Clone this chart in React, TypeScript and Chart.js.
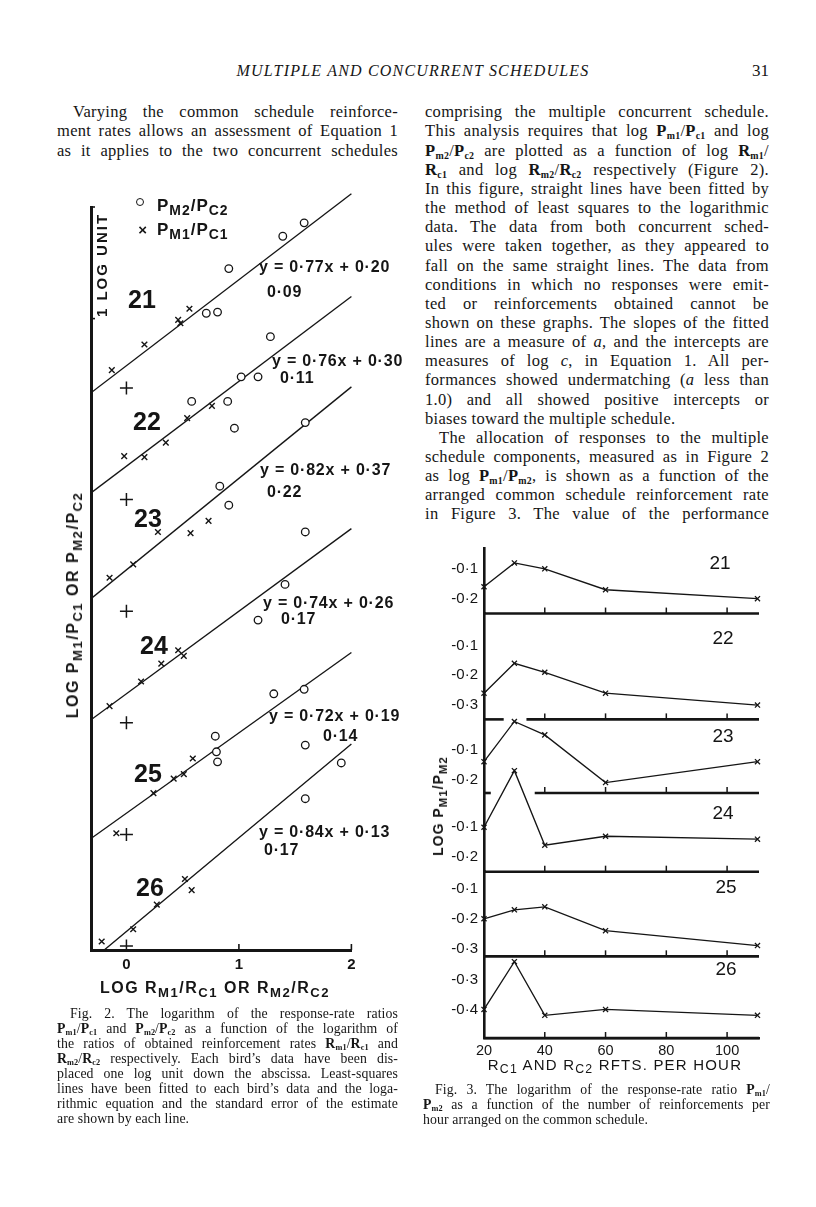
import React, { useEffect, useRef } from 'react';
import { Chart, registerables } from 'chart.js';

Chart.register(...registerables);

// ---------------- Fig. 2 data ----------------
const birds = ['21', '22', '23', '24', '25', '26'];
const fitSlopes = [0.77, 0.76, 0.82, 0.74, 0.72, 0.84];
const fitIntercepts = [0.2, 0.3, 0.37, 0.26, 0.19, 0.13];
const fitStdErrors = [0.09, 0.11, 0.22, 0.17, 0.14, 0.17];
// x: log Rm1/Rc1, y: log Pm1/Pc1 (crosses)
const comp1LogR = [
  [-0.13, 0.16, 0.46, 0.48, 0.56],
  [-0.02, 0.16, 0.35, 0.54, 0.76],
  [-0.15, 0.06, 0.28, 0.57, 0.73],
  [-0.15, 0.13, 0.31, 0.46, 0.51],
  [-0.09, 0.24, 0.42, 0.51, 0.59],
  [-0.22, 0.06, 0.27, 0.52, 0.58],
];
const comp1LogP = [
  [0.16, 0.39, 0.61, 0.58, 0.71],
  [0.39, 0.38, 0.51, 0.73, 0.84],
  [0.3, 0.42, 0.71, 0.7, 0.81],
  [0.15, 0.37, 0.53, 0.65, 0.6],
  [0.01, 0.37, 0.5, 0.54, 0.68],
  [0.04, 0.15, 0.37, 0.6, 0.5],
];
// x: log Rm2/Rc2, y: log Pm2/Pc2 (circles)
const comp2LogR = [
  [0.71, 0.81, 0.91, 1.39, 1.58],
  [0.58, 0.9, 0.96, 1.02, 1.17, 1.28],
  [0.83, 0.91, 1.59],
  [1.17, 1.41, 1.59],
  [0.79, 0.8, 0.81, 1.31, 1.58],
  [1.59, 1.59, 1.91],
];
const comp2LogP = [
  [0.67, 0.68, 1.07, 1.36, 1.48],
  [0.88, 0.88, 0.64, 1.1, 1.1, 1.46],
  [1.12, 0.95, 1.69],
  [0.92, 1.24, 1.71],
  [0.88, 0.74, 0.65, 1.26, 1.3],
  [1.8, 1.32, 1.64],
];
const fig2XTicks = [0, 1, 2];

// ---------------- Fig. 3 data ----------------
const rftsPerHour = [20, 30, 40, 60, 110];
const logPm1Pm2 = [
  [-0.16, -0.08, -0.1, -0.17, -0.2],
  [-0.26, -0.16, -0.19, -0.26, -0.3],
  [-0.14, -0.005, -0.05, -0.21, -0.14],
  [-0.1, 0.09, -0.16, -0.13, -0.14],
  [-0.2, -0.17, -0.16, -0.24, -0.29],
  [-0.4, -0.24, -0.42, -0.4, -0.42],
];
const panelTicks = [
  [-0.1, -0.2],
  [-0.1, -0.2, -0.3],
  [-0.1, -0.2],
  [-0.1, -0.2],
  [-0.1, -0.2, -0.3],
  [-0.3, -0.4],
];
const panelMin = [-0.25, -0.348, -0.245, -0.249, -0.326, -0.496];
const panelMax = [-0.03, 0.007, 0.002, 0.015, -0.042, -0.222];
const rateTicks = [20, 40, 60, 80, 100];

// ---------------- styling constants ----------------
const INK = '#151515';
const SANS = '"Liberation Sans", Arial, sans-serif';
const SERIF = '"Liberation Serif", "Times New Roman", serif';
const F2_XMIN = -0.315;
const F2_XMAX = 2.0;
const F2_YMIN = -0.036;
const F2_YMAX = 6.622;
const DISPLACE = 1; // each bird displaced one log unit
const F3_XMIN = 20;
const F3_XMAX = 110.5;

const dot = (v: number, d = 2) => v.toFixed(d).replace('.', '\u00b7');

// ---------- text helpers ----------
const Bs = ({ c, s }: { c: string; s: string }) => (
  <span style={{ whiteSpace: 'nowrap' }}>
    <b>{c}</b>
    <span style={{ fontSize: '0.6em', verticalAlign: '-0.3em', lineHeight: 0, fontWeight: 700 }}>{s}</span>
  </span>
);
const Cs = ({ c, s }: { c: string; s: string }) => (
  <>
    {c}
    <span style={{ fontSize: '0.82em', verticalAlign: '-0.32em', lineHeight: 0 }}>{s}</span>
  </>
);

function TextLine(props: {
  x: number; y: number; w: number; size: number; lh: number; indent?: number;
  justify?: boolean; ls?: number; children: any;
}) {
  const { x, y, w, size, lh, indent = 0, justify = true, ls = 0.3, children } = props;
  return (
    <div
      style={{
        position: 'absolute', left: x + indent, top: y, width: w - indent,
        fontFamily: SERIF, fontSize: size, lineHeight: lh + 'px', whiteSpace: 'nowrap',
        textAlign: justify ? 'justify' : 'left', textAlignLast: justify ? 'justify' : 'left',
        letterSpacing: ls, color: INK,
      } as any}
    >
      {children}
    </div>
  );
}

function Lbl(props: { x: number; y: number; center?: boolean; rotate?: boolean; style?: any; children: any }) {
  const { x, y, center, rotate, style, children } = props;
  let transform = center ? 'translate(-50%,-50%)' : 'translateY(-50%)';
  if (rotate) transform = 'translate(-50%,-50%) rotate(-90deg)';
  return (
    <div style={{ position: 'absolute', left: x, top: y, transform, whiteSpace: 'nowrap', lineHeight: 1, color: INK, fontFamily: SANS, ...style }}>
      {children}
    </div>
  );
}

// ---------- Fig 2 chart ----------
const fig2Marks = {
  id: 'fig2Marks',
  afterDraw(chart: any) {
    const { ctx } = chart;
    const xs = chart.scales.x;
    const ys = chart.scales.y;
    ctx.save();
    ctx.strokeStyle = INK;
    ctx.lineWidth = 1.6;
    [1, 2].forEach((v) => {
      const px = xs.getPixelForValue(v);
      ctx.beginPath();
      ctx.moveTo(px, ys.bottom);
      ctx.lineTo(px, ys.bottom - 6);
      ctx.stroke();
    });
    [F2_YMAX, F2_YMAX - 1].forEach((v) => {
      const py = ys.getPixelForValue(v);
      ctx.beginPath();
      ctx.moveTo(xs.left, py);
      ctx.lineTo(xs.left + 4, py);
      ctx.stroke();
    });
    ctx.restore();
  },
};

function Fig2Canvas() {
  const ref = useRef<HTMLCanvasElement>(null);
  useEffect(() => {
    const datasets: any[] = [];
    birds.forEach((b, i) => {
      const off = (birds.length - 1 - i) * DISPLACE;
      const a = fitSlopes[i];
      const c = fitIntercepts[i];
      const x0 = Math.max(F2_XMIN, (F2_YMIN - off - c) / a);
      datasets.push({
        label: 'fit ' + b,
        data: [{ x: x0, y: off + c + a * x0 }, { x: F2_XMAX, y: off + c + a * F2_XMAX }],
        showLine: true, borderColor: INK, borderWidth: 1.35, pointRadius: 0,
        clip: { left: 0, top: false, right: false, bottom: 0 }, order: 3,
      });
      datasets.push({
        label: 'origin ' + b,
        data: [{ x: 0, y: off }],
        pointStyle: 'cross', pointRadius: 6.5, pointBorderColor: INK, pointBorderWidth: 1.5, order: 2,
      });
      datasets.push({
        label: 'Pm1/Pc1 ' + b,
        data: comp1LogR[i].map((x, j) => ({ x, y: off + comp1LogP[i][j] })),
        pointStyle: 'crossRot', pointRadius: 4, pointBorderColor: INK, pointBorderWidth: 1.4, order: 1,
      });
      datasets.push({
        label: 'Pm2/Pc2 ' + b,
        data: comp2LogR[i].map((x, j) => ({ x, y: off + comp2LogP[i][j] })),
        pointStyle: 'circle', pointRadius: 3.8, pointBackgroundColor: '#fff', pointBorderColor: INK,
        pointBorderWidth: 1.3, order: 1,
      });
    });
    const chart = new Chart(ref.current as HTMLCanvasElement, {
      type: 'scatter',
      data: { datasets },
      options: {
        animation: false,
        responsive: false,
        events: [],
        layout: { padding: { left: 51, right: 48.6, top: 27, bottom: 30 } },
        plugins: { legend: { display: false }, tooltip: { enabled: false } },
        scales: {
          x: {
            type: 'linear', min: F2_XMIN, max: F2_XMAX, position: 'bottom',
            grid: { display: false, drawTicks: false, tickLength: 0 },
            border: { display: true, color: INK, width: 3 },
            ticks: {
              color: INK, font: { family: SANS, size: 15, weight: 'bold' }, padding: 6,
              autoSkip: false, maxRotation: 0, callback: (v: any) => String(v),
            },
            afterBuildTicks: (s: any) => { s.ticks = fig2XTicks.map((v) => ({ value: v })); },
            afterFit: (s: any) => { s.height = 30; },
          },
          y: {
            type: 'linear', min: F2_YMIN, max: F2_YMAX,
            grid: { display: false, drawTicks: false, tickLength: 0 },
            border: { display: true, color: INK, width: 3 },
            ticks: { display: false },
            afterFit: (s: any) => { s.width = 0; },
          },
        },
      } as any,
      plugins: [fig2Marks],
    });
    return () => chart.destroy();
  }, []);
  return <canvas ref={ref} width={360} height={830} style={{ position: 'absolute', left: 40, top: 180, width: 360, height: 830 }} />;
}

// ---------- Fig 3 chart ----------
const fig3Marks = {
  id: 'fig3Marks',
  afterDraw(chart: any) {
    const { ctx, chartArea } = chart;
    const xs = chart.scales.x;
    ctx.save();
    ctx.strokeStyle = INK;
    birds.forEach((b, i) => {
      const ys = chart.scales['y' + b];
      const y = ys.bottom;
      // gaps where the panel below rises up to this baseline
      const gaps: number[][] = [];
      if (i + 1 < birds.length) {
        const pts = chart.getDatasetMeta(i + 1).data;
        const lim = y + 3;
        for (let k = 0; k < pts.length - 1; k++) {
          const p = pts[k];
          const q = pts[k + 1];
          if (p.y > lim && q.y > lim) continue;
          const t = (lim - p.y) / (q.y - p.y);
          let xa = p.x;
          let xb = q.x;
          if (p.y <= lim && q.y > lim) xb = p.x + t * (q.x - p.x);
          if (p.y > lim && q.y <= lim) xa = p.x + t * (q.x - p.x);
          gaps.push([xa - 10, xb + 10]);
        }
      }
      gaps.sort((a, c) => a[0] - c[0]);
      const segs: number[][] = [];
      let cur = chartArea.left;
      gaps.forEach((g) => {
        if (g[0] > cur) segs.push([cur, g[0]]);
        cur = Math.max(cur, g[1]);
      });
      if (cur < chartArea.right) segs.push([cur, chartArea.right]);
      ctx.lineWidth = 2.6;
      segs.forEach((s) => {
        ctx.beginPath();
        ctx.moveTo(s[0], y);
        ctx.lineTo(s[1], y);
        ctx.stroke();
      });
      ctx.lineWidth = 1.5;
      rateTicks.slice(1).forEach((v) => {
        const px = xs.getPixelForValue(v);
        ctx.beginPath();
        ctx.moveTo(px, y);
        ctx.lineTo(px, y - 6);
        ctx.stroke();
      });
    });
    ctx.restore();
  },
};

function Fig3Canvas() {
  const ref = useRef<HTMLCanvasElement>(null);
  useEffect(() => {
    const scales: any = {
      x: {
        type: 'linear', min: F3_XMIN, max: F3_XMAX, position: 'bottom',
        grid: { display: false, drawTicks: false, tickLength: 0 },
        border: { display: true, color: INK, width: 2.6 },
        ticks: { color: INK, font: { family: SANS, size: 14.5 }, padding: 4, autoSkip: false, maxRotation: 0 },
        afterBuildTicks: (s: any) => { s.ticks = rateTicks.map((v) => ({ value: v })); },
        afterFit: (s: any) => { s.height = 30; },
      },
    };
    birds.forEach((b, i) => {
      scales['y' + b] = {
        type: 'linear', position: 'left', stack: 'panels',
        stackWeight: panelMax[i] - panelMin[i], weight: birds.length - i,
        min: panelMin[i], max: panelMax[i],
        grid: { display: false, drawTicks: false, tickLength: 0 },
        border: { display: true, color: INK, width: 2.6 },
        ticks: {
          color: INK, font: { family: SANS, size: 15 }, padding: 6, autoSkip: false,
          callback: (v: any) => (v < 0 ? '-' : '') + dot(Math.abs(v), 1),
        },
        afterBuildTicks: (s: any) => { s.ticks = panelTicks[i].map((v) => ({ value: v })); },
        afterFit: (s: any) => { s.width = 84; },
      };
    });
    const datasets = birds.map((b, i) => ({
      label: 'Bird ' + b,
      yAxisID: 'y' + b,
      data: rftsPerHour.map((x, j) => ({ x, y: logPm1Pm2[i][j] })),
      showLine: true, borderColor: INK, borderWidth: 1.35,
      pointStyle: 'crossRot', pointRadius: 3.6, pointBorderColor: INK, pointBorderWidth: 1.3,
      clip: false,
    }));
    const chart = new Chart(ref.current as HTMLCanvasElement, {
      type: 'scatter',
      data: { datasets },
      options: {
        animation: false,
        responsive: false,
        events: [],
        layout: { padding: { left: 0, right: 21, top: 18, bottom: 7 } },
        plugins: { legend: { display: false }, tooltip: { enabled: false } },
        scales,
      } as any,
      plugins: [fig3Marks],
    });
    return () => chart.destroy();
  }, []);
  return <canvas ref={ref} width={380} height={545} style={{ position: 'absolute', left: 400, top: 530, width: 380, height: 545 }} />;
}

// ---------- page text ----------
const LEFT_X = 57;
const LEFT_W = 341;
const RIGHT_X = 425;
const RIGHT_W = 344;
const BODY_SIZE = 16.5;
const BODY_LH = 19;
const bodyTop = (k: number) => 113.3 + 19.15 * k - 11;

const leftLines: any[] = [
  'Varying the common schedule reinforce-',
  'ment rates allows an assessment of Equation 1',
  'as it applies to the two concurrent schedules',
];

const rightLines: any[] = [
  'comprising the multiple concurrent schedule.',
  <>This analysis requires that log <Bs c="P" s="m1" />/<Bs c="P" s="c1" /> and log</>,
  <><Bs c="P" s="m2" />/<Bs c="P" s="c2" /> are plotted as a function of log <Bs c="R" s="m1" />/</>,
  <><Bs c="R" s="c1" /> and log <Bs c="R" s="m2" />/<Bs c="R" s="c2" /> respectively (Figure 2).</>,
  'In this figure, straight lines have been fitted by',
  'the method of least squares to the logarithmic',
  'data. The data from both concurrent sched-',
  'ules were taken together, as they appeared to',
  'fall on the same straight lines. The data from',
  'conditions in which no responses were emit-',
  'ted or reinforcements obtained cannot be',
  'shown on these graphs. The slopes of the fitted',
  <>lines are a measure of <i>a</i>, and the intercepts are</>,
  <>measures of log <i>c</i>, in Equation 1. All per-</>,
  <>formances showed undermatching (<i>a</i> less than</>,
  '1.0) and all showed positive intercepts or',
  'biases toward the multiple schedule.',
  'The allocation of responses to the multiple',
  'schedule components, measured as in Figure 2',
  <>as log <Bs c="P" s="m1" />/<Bs c="P" s="m2" />, is shown as a function of the</>,
  'arranged common schedule reinforcement rate',
  'in Figure 3. The value of the performance',
];

const fig2Caption: any[] = [
  'Fig. 2. The logarithm of the response-rate ratios',
  <><Bs c="P" s="m1" />/<Bs c="P" s="c1" /> and <Bs c="P" s="m2" />/<Bs c="P" s="c2" /> as a function of the logarithm of</>,
  <>the ratios of obtained reinforcement rates <Bs c="R" s="m1" />/<Bs c="R" s="c1" /> and</>,
  <><Bs c="R" s="m2" />/<Bs c="R" s="c2" /> respectively. Each bird{'\u2019'}s data have been dis-</>,
  'placed one log unit down the abscissa. Least-squares',
  <>lines have been fitted to each bird{'\u2019'}s data and the loga-</>,
  'rithmic equation and the standard error of the estimate',
  'are shown by each line.',
];

const fig3Caption: any[] = [
  <>Fig. 3. The logarithm of the response-rate ratio <Bs c="P" s="m1" />/</>,
  <><Bs c="P" s="m2" /> as a function of the number of reinforcements per</>,
  'hour arranged on the common schedule.',
];

// overlay positions (page px)
const f2EqPos = [[259, 267], [272, 361], [260, 470], [263, 603], [269, 716], [259, 832]];
const f2SePos = [[267, 292], [280, 378], [267, 492], [281, 619], [323, 736], [264, 850]];
const f2BirdPos = [[142, 299], [147, 421], [148, 518], [154, 645], [148, 773], [150, 887]];
const f3BirdPos = [[720, 562], [723, 637], [723, 735], [723, 812], [726, 886], [726, 968]];

export default function App() {
  const f2Text = { fontWeight: 700, fontSize: 16, letterSpacing: 0.8 };
  return (
    <div style={{ position: 'absolute', left: 0, top: 0, width: 816, height: 1207, background: '#fff', overflow: 'hidden' }}>
      {/* running head */}
      <div style={{ position: 'absolute', left: 0, width: 826, top: 61, textAlign: 'center', fontFamily: SERIF, fontStyle: 'italic', fontSize: 16, letterSpacing: 1.2, lineHeight: '20px', color: INK }}>
        MULTIPLE AND CONCURRENT SCHEDULES
      </div>
      <div style={{ position: 'absolute', left: 740, width: 29, top: 61, textAlign: 'right', fontFamily: SERIF, fontSize: 17, lineHeight: '20px', color: INK }}>31</div>

      {/* body text */}
      {leftLines.map((t, k) => (
        <TextLine key={'l' + k} x={LEFT_X} y={bodyTop(k)} w={LEFT_W} size={BODY_SIZE} lh={BODY_LH} indent={k === 0 ? 16 : 0}>{t}</TextLine>
      ))}
      {rightLines.map((t, k) => (
        <TextLine key={'r' + k} x={RIGHT_X} y={bodyTop(k)} w={RIGHT_W} size={BODY_SIZE} lh={BODY_LH} indent={k === 17 ? 14 : 0} justify={k !== 16}>{t}</TextLine>
      ))}

      {/* Figure 2 */}
      <Fig2Canvas />
      <div style={{ position: 'absolute', left: 136.3, top: 198.3, width: 6, height: 6, border: '1.4px solid ' + INK, borderRadius: '50%', background: '#fff' }} />
      <Lbl x={157} y={205} style={{ fontSize: 17, fontWeight: 700, letterSpacing: 1 }}><Cs c="P" s="M2" />/<Cs c="P" s="C2" /></Lbl>
      <Lbl x={142.7} y={229} center style={{ fontSize: 15, fontWeight: 700 }}>{'\u00d7'}</Lbl>
      <Lbl x={157} y={229} style={{ fontSize: 17, fontWeight: 700, letterSpacing: 1 }}><Cs c="P" s="M1" />/<Cs c="P" s="C1" /></Lbl>
      <Lbl x={101} y={265} rotate style={{ fontSize: 15, fontWeight: 700, letterSpacing: 2 }}>1 LOG UNIT</Lbl>
      <Lbl x={73} y={605} rotate style={{ fontSize: 16, fontWeight: 700, letterSpacing: 1.5 }}>
        LOG <Cs c="P" s="M1" />/<Cs c="P" s="C1" /> OR <Cs c="P" s="M2" />/<Cs c="P" s="C2" />
      </Lbl>
      <Lbl x={215} y={988} center style={{ fontSize: 16, fontWeight: 700, letterSpacing: 1.5 }}>
        LOG <Cs c="R" s="M1" />/<Cs c="R" s="C1" /> OR <Cs c="R" s="M2" />/<Cs c="R" s="C2" />
      </Lbl>
      {birds.map((b, i) => (
        <React.Fragment key={'f2' + b}>
          <Lbl x={f2BirdPos[i][0]} y={f2BirdPos[i][1]} center style={{ fontSize: 25, fontWeight: 700 }}>{b}</Lbl>
          <Lbl x={f2EqPos[i][0]} y={f2EqPos[i][1]} style={f2Text}>{'y = ' + dot(fitSlopes[i]) + 'x + ' + dot(fitIntercepts[i])}</Lbl>
          <Lbl x={f2SePos[i][0]} y={f2SePos[i][1]} style={f2Text}>{dot(fitStdErrors[i])}</Lbl>
        </React.Fragment>
      ))}
      {fig2Caption.map((t, k) => (
        <TextLine key={'c2' + k} x={LEFT_X} y={1015 + 15 * k - 9} w={LEFT_W} size={13.8} lh={15} ls={0.1} indent={k === 0 ? 13 : 0} justify={k !== fig2Caption.length - 1}>{t}</TextLine>
      ))}

      {/* Figure 3 */}
      <Fig3Canvas />
      {birds.map((b, i) => (
        <Lbl key={'f3' + b} x={f3BirdPos[i][0]} y={f3BirdPos[i][1]} center style={{ fontSize: 19 }}>{b}</Lbl>
      ))}
      <Lbl x={437.5} y={806} rotate style={{ fontSize: 14, fontWeight: 700, letterSpacing: 1 }}>
        LOG <Cs c="P" s="M1" />/<Cs c="P" s="M2" />
      </Lbl>
      <Lbl x={615} y={1064} center style={{ fontSize: 15, letterSpacing: 1.2 }}>
        <Cs c="R" s="C1" /> AND <Cs c="R" s="C2" /> RFTS. PER HOUR
      </Lbl>
      {fig3Caption.map((t, k) => (
        <TextLine key={'c3' + k} x={423} y={1091 + 15 * k - 9} w={347} size={13.8} lh={15} ls={0.1} indent={k === 0 ? 12 : 0} justify={k !== fig3Caption.length - 1}>{t}</TextLine>
      ))}
    </div>
  );
}
